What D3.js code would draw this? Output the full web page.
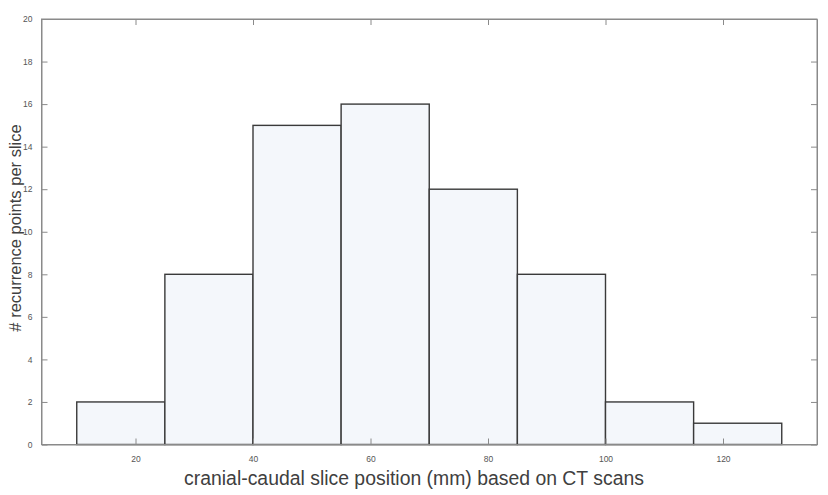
<!DOCTYPE html>
<html>
<head>
<meta charset="utf-8">
<script src="https://cdn.jsdelivr.net/npm/d3@7"></script>
<style>
  body { margin: 0; background: #fff; }
  svg { display: block; font-family: "Liberation Sans", Arial, sans-serif; }
  .tick text { fill: #555; font-size: 8.5px; }
  .axis path, .axis line { stroke: #8a8a8a; }
</style>
</head>
<body>
<svg class="canvas" width="828" height="495"></svg>
<script>
// histogram bins (mm) and counts
const binEdges = [10, 25, 40, 55, 70, 85, 100, 115, 130];
const counts = [2, 8, 15, 16, 12, 8, 2, 1];
const xTicks = [20, 40, 60, 80, 100, 120];
const yTicks = [0, 2, 4, 6, 8, 10, 12, 14, 16, 18, 20];

const xLabel = 'cranial-caudal slice position (mm) based on CT scans';
const yLabel = '# recurrence points per slice';

const frame = {left: 41.5, top: 19, right: 817, bottom: 444.5};

const svg = d3.select('.canvas');

const x = d3.scaleLinear().domain([4, 136]).range([frame.left, frame.right]);
const y = d3.scaleLinear().domain([0, 20]).range([frame.bottom, frame.top]);

const bins = counts.map((c, i) => ({x0: binEdges[i], x1: binEdges[i + 1], n: c}));

// bars
svg.append('g')
    .selectAll('rect')
    .data(bins)
    .join('rect')
    .attr('x', d => x(d.x0))
    .attr('y', d => y(d.n))
    .attr('width', d => x(d.x1) - x(d.x0))
    .attr('height', d => y(0) - y(d.n))
    .attr('fill', '#f4f7fb')
    .attr('stroke', '#3a3a3a')
    .attr('stroke-width', 1.4);

// axes (ticks point inward, mirrored on top/right)
const tickLen = 6;
svg.append('g')
    .classed('axis', true)
    .attr('transform', 'translate(0,' + frame.bottom + ')')
    .call(d3.axisBottom(x).tickValues(xTicks).tickSizeInner(-tickLen).tickSizeOuter(0).tickPadding(11))
    .call(g => g.selectAll('text').attr('dy', '0.71em'));

svg.append('g')
    .classed('axis', true)
    .attr('transform', 'translate(0,' + frame.top + ')')
    .call(d3.axisTop(x).tickValues(xTicks).tickSizeInner(-tickLen).tickSizeOuter(0).tickFormat(''));

svg.append('g')
    .classed('axis', true)
    .attr('transform', 'translate(' + frame.left + ',0)')
    .call(d3.axisLeft(y).tickValues(yTicks).tickSizeInner(-tickLen).tickSizeOuter(0).tickPadding(9));

svg.append('g')
    .classed('axis', true)
    .attr('transform', 'translate(' + frame.right + ',0)')
    .call(d3.axisRight(y).tickValues(yTicks).tickSizeInner(-tickLen).tickSizeOuter(0).tickFormat(''));

// frame border
svg.append('rect')
    .attr('x', frame.left)
    .attr('y', frame.top)
    .attr('width', frame.right - frame.left)
    .attr('height', frame.bottom - frame.top)
    .attr('fill', 'none')
    .attr('stroke', '#8a8a8a')
    .attr('stroke-width', 1);

// labels
svg.append('text')
    .attr('x', 414)
    .attr('y', 485)
    .attr('text-anchor', 'middle')
    .attr('font-size', 19.4)
    .attr('fill', '#404040')
    .text(xLabel);

svg.append('text')
    .attr('transform', 'translate(21,' + 228 + ') rotate(-90)')
    .attr('text-anchor', 'middle')
    .attr('font-size', 16.5)
    .attr('fill', '#404040')
    .text(yLabel);
</script>
</body>
</html>
